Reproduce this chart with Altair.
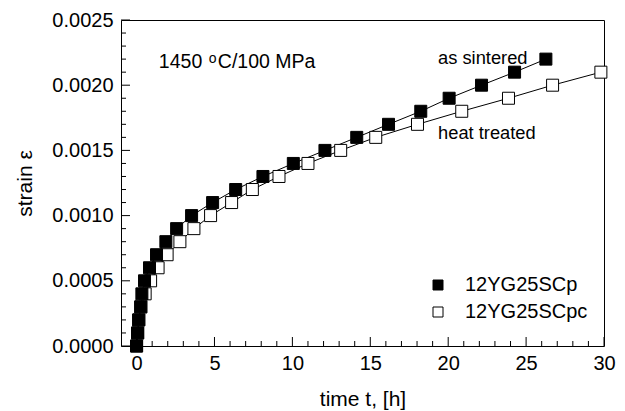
import altair as alt
import pandas as pd

# ---- data ----
series_names = ["12YG25SCp", "12YG25SCpc"]

sintered_time = [0.0, 0.08, 0.13, 0.26, 0.34, 0.51, 0.83, 1.28, 1.88, 2.57, 3.53, 4.88,
                 6.36, 8.11, 10.06, 12.09, 14.13, 16.17, 18.24, 20.06, 22.14, 24.26, 26.27]
sintered_strain = [0.0000, 0.0001, 0.0002, 0.0003, 0.0004, 0.0005, 0.0006, 0.0007, 0.0008,
                   0.0009, 0.0010, 0.0011, 0.0012, 0.0013, 0.0014, 0.0015, 0.0016, 0.0017,
                   0.0018, 0.0019, 0.0020, 0.0021, 0.0022]

treated_time = [0.0, 0.06, 0.15, 0.28, 0.55, 0.9, 1.38, 1.96, 2.78, 3.68, 4.75, 6.1,
                7.43, 9.14, 11.0, 13.1, 15.35, 18.03, 20.87, 23.87, 26.7, 29.8]
treated_strain = [0.0000, 0.0001, 0.0002, 0.0003, 0.0004, 0.0005, 0.0006, 0.0007, 0.0008,
                  0.0009, 0.0010, 0.0011, 0.0012, 0.0013, 0.0014, 0.0015, 0.0016, 0.0017,
                  0.0018, 0.0019, 0.0020, 0.0021]

x_major = [0, 5, 10, 15, 20, 25, 30]
x_minor = [1, 2, 3, 4, 6, 7, 8, 9, 11, 12, 13, 14, 16, 17, 18, 19, 21, 22, 23, 24, 26, 27, 28, 29]
y_major = [0.0, 0.0005, 0.0010, 0.0015, 0.0020, 0.0025]
y_minor = [0.0001, 0.0002, 0.0003, 0.0004, 0.0006, 0.0007, 0.0008, 0.0009,
           0.0011, 0.0012, 0.0013, 0.0014, 0.0016, 0.0017, 0.0018, 0.0019,
           0.0021, 0.0022, 0.0023, 0.0024]

df = pd.concat([
    pd.DataFrame({"time": sintered_time, "strain": sintered_strain, "series": series_names[0], "z": 2}),
    pd.DataFrame({"time": treated_time, "strain": treated_strain, "series": series_names[1], "z": 1}),
], ignore_index=True)

W, H = 483, 326
FONT = "Liberation Sans"

xscale = alt.Scale(domain=[-1, 30], nice=False, zero=False)
yscale = alt.Scale(domain=[0, 0.0025], nice=False, zero=False)

xaxis = alt.Axis(values=x_major, title="time t, [h]", ticks=False, domain=False, grid=False,
                 labelFontSize=20, titleFontSize=21, labelPadding=7, titlePadding=15,
                 labelColor="black", titleColor="black", titleFontWeight="normal",
                 labelFont=FONT, titleFont=FONT, labelFlush=False)
yaxis = alt.Axis(values=y_major, format=".4f", title="strain ε", ticks=False, domain=False,
                 grid=False, labelFontSize=20, titleFontSize=21, labelPadding=8, titlePadding=16,
                 labelColor="black", titleColor="black", titleFontWeight="normal",
                 labelFont=FONT, titleFont=FONT, labelFlush=False)

X = lambda: alt.X("time:Q", scale=xscale, axis=xaxis, title="time t, [h]")
Y = lambda: alt.Y("strain:Q", scale=yscale, axis=yaxis, title="strain ε")

lines = alt.Chart(df).mark_line(color="black", strokeWidth=1).encode(
    x=X(), y=Y(), detail="series:N", order="time:Q",
)

points = alt.Chart(df).mark_point(shape="square", size=144, filled=True, stroke="black",
                                  strokeWidth=1, opacity=1).encode(
    x=X(), y=Y(),
    fill=alt.Fill("series:N", scale=alt.Scale(domain=series_names, range=["black", "white"]),
                  legend=alt.Legend(orient="none", legendX=307, legendY=255, title=None,
                                    symbolType="square", symbolSize=100,
                                    symbolStrokeColor="black", symbolStrokeWidth=1,
                                    labelFontSize=20, labelFont=FONT, labelColor="black",
                                    labelOffset=17, rowPadding=7, padding=0)),
    order=alt.Order("z:Q"),
)

def xticks(vals, length):
    return alt.Chart(pd.DataFrame({"time": vals})).mark_rule(color="black", strokeWidth=1).encode(
        x=X(), y=alt.value(H), y2=alt.value(H - length))

def yticks(vals, length):
    return alt.Chart(pd.DataFrame({"strain": vals})).mark_rule(color="black", strokeWidth=1).encode(
        y=Y(), x=alt.value(0), x2=alt.value(length))

def label(t, s, text, size, dx=0, dy=0):
    return alt.Chart(pd.DataFrame({"time": [t], "strain": [s], "label": [text]})).mark_text(
        align="left", baseline="alphabetic", fontSize=size, font=FONT, color="black", dx=dx, dy=dy
    ).encode(x=X(), y=Y(), text="label:N")

annotations = [
    label(19.35, 0.002163, "as sintered", 18.3),
    label(19.35, 0.001587, "heat treated", 18.3),
    label(1.43, 0.00213, "1450", 19.5),
    label(1.43, 0.00213, "o", 14, dx=50, dy=-5),
    label(1.43, 0.00213, "C/100 MPa", 19.5, dx=59),
]

chart = alt.layer(
    lines, xticks(x_major, 9), xticks(x_minor, 5), yticks(y_major, 9), yticks(y_minor, 5),
    points, *annotations
).properties(
    width=W, height=H,
    autosize=alt.AutoSizeParams(type="none"),
    padding={"left": 121, "top": 20, "right": 21, "bottom": 65},
    background="white",
).configure(font=FONT).configure_view(stroke="black", strokeWidth=1)

chart.save("out.html", embed_options={"renderer": "svg", "actions": False})
